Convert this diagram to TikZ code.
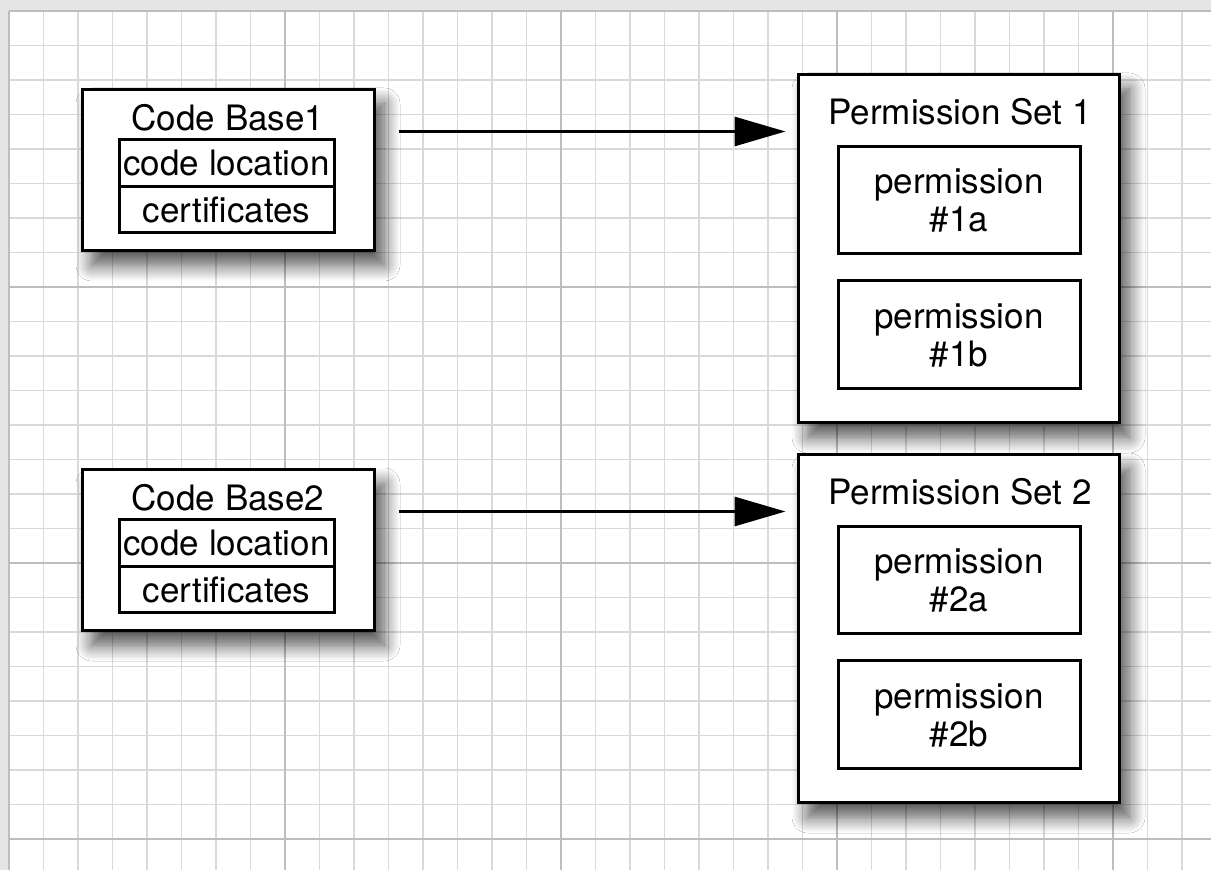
\documentclass[tikz,border=0pt]{standalone}
\usepackage{fontspec}
\setmainfont{TeX Gyre Heros}
\usetikzlibrary{arrows.meta,shadows.blur}
\tikzset{
  gridminor/.style={draw=black!15,line width=.8pt},
  gridmajor/.style={draw=black!26,line width=1pt},
  outerbox/.style={draw,fill=white,line width=1.5pt,
    blur shadow={shadow xshift=5pt,shadow yshift=-7pt,shadow blur radius=8pt,shadow blur steps=12,shadow opacity=70}},
  innerbox/.style={draw,fill=white,line width=1.5pt,align=center,inner sep=0pt},
  arr/.style={line width=1.5pt,-{Triangle[length=25.5pt,width=14.5pt]}},
}
\begin{document}
\begin{tikzpicture}[x=.5pt,y=-.5pt,font=\fontsize{17.5}{19}\selectfont]
\useasboundingbox (0,0) rectangle (1211,870);
% paper and grid
\fill[black!10] (0,0) rectangle (1211,870);
\fill[white] (9,11) rectangle (1211,870);
\foreach \k in {0,...,34} \draw[gridminor] ({9+34.5*\k},11) -- ({9+34.5*\k},870);
\foreach \k in {0,...,24} \draw[gridminor] (9,{11+34.5*\k}) -- (1211,{11+34.5*\k});
\foreach \k in {0,...,4} \draw[gridmajor] ({9+276*\k},11) -- ({9+276*\k},870);
\foreach \k in {0,...,3} \draw[gridmajor] (9,{11+276*\k}) -- (1211,{11+276*\k});
% code bases and permission sets
\foreach \i/\dy in {1/0,2/380}{
  \node[outerbox,minimum width=146pt,minimum height=80.5pt] (cb\i) at (228,170.5+\dy) {};
  \node (cb\i-title) at (228,118+\dy) {Code Base\i};
  \node[innerbox,minimum width=107.5pt,minimum height=23.5pt] (cb\i-loc) at (226.5,163.5+\dy) {code location};
  \node[innerbox,minimum width=107.5pt,minimum height=23pt] (cb\i-cert) at (226.5,210+\dy) {certificates};
  \node[outerbox,minimum width=160.5pt,minimum height=174pt] (ps\i) at (958.5,249+\dy) {};
  \node (ps\i-title) at (960,112+\dy) {Permission Set \i};
  \node[innerbox,minimum width=121pt,minimum height=53.5pt] (ps\i-a) at (959,200.5+\dy) {permission\\\#\i a};
  \node[innerbox,minimum width=121pt,minimum height=54pt] (ps\i-b) at (959,335+\dy) {permission\\\#\i b};
  \coordinate (a\i) at ([shift={(23,43)}]cb\i.north east);
  \draw[arr,shorten >=5.5pt] (a\i) -- (a\i -| ps\i.west);
}
\end{tikzpicture}
\end{document}
